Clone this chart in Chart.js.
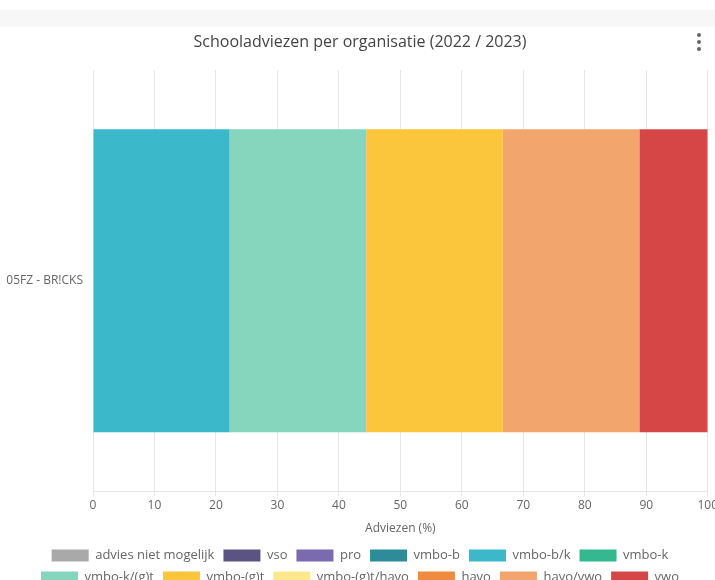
<!DOCTYPE html>
<html>
<head>
<meta charset="utf-8">
<script src="https://cdn.jsdelivr.net/npm/chart.js@4"></script>
<style>
  html, body { margin: 0; padding: 0; background: #fff; overflow: hidden; width: 715px; height: 580px; }
  #band { position: absolute; left: 0; top: 10px; width: 715px; height: 17px; background: #f7f7f7; }
  #wrap { position: absolute; left: 0; top: 27px; width: 720px; height: 567px; }
  #menu { position: absolute; left: 697px; top: 33px; width: 4px; }
  #menu span { display: block; width: 4px; height: 4px; border-radius: 2px; background: #666; margin-bottom: 3px; }
</style>
</head>
<body>
<div id="band"></div>
<div id="wrap"><canvas id="graph_advies"></canvas></div>
<div id="menu"><span></span><span></span><span></span></div>
<script>
/*------------------------------*/
/*     Schooladviezen data      */
/*------------------------------*/
var organisaties = ['05FZ - BR!CKS']
var adviezen = ['advies niet mogelijk', 'vso', 'pro', 'vmbo-b', 'vmbo-b/k', 'vmbo-k',
  'vmbo-k/(g)t', 'vmbo-(g)t', 'vmbo-(g)t/havo', 'havo', 'havo/vwo', 'vwo']
var percentages = [0, 0, 0, 0, 22.22, 0, 22.22, 22.22, 0, 0, 22.22, 11.11]
var kleuren = ['#a9a9a9', '#5b5483', '#7b6ab0', '#2e8b9a', '#3bb8c9', '#33b890',
  '#86d5bd', '#fbc53c', '#fde98c', '#f08a3e', '#f2a66e', '#d64646']
var xTicks = [0, 10, 20, 30, 40, 50, 60, 70, 80, 90, 100]

var ctx_advies = document.getElementById('graph_advies').getContext('2d')

var data_advies = {
    labels: organisaties,
    datasets: adviezen.map(function (naam, i) {
        return {
            label: naam,
            data: [percentages[i]],
            backgroundColor: kleuren[i],
            borderColor: kleuren[i],
            borderWidth: 0
        }
    })
}

var config_advies = {
    type: 'bar',
    data: data_advies,
    options: {
        indexAxis: 'y',
        responsive: true,
        maintainAspectRatio: false,
        animation: false,
        layout: { padding: 0 },
        scales: {
            x: {
                stacked: true,
                min: 0,
                max: 100,
                afterBuildTicks: function (scale) {
                    scale.ticks = xTicks.map(function (v) { return { value: v } })
                },
                grid: { color: '#e6e6e6', tickLength: 5 },
                border: { color: '#e6e6e6' },
                ticks: { color: '#666', padding: 2, font: { family: 'Open Sans', size: 12 } },
                title: {
                    display: true,
                    text: 'Adviezen (%)',
                    color: '#666',
                    padding: { top: 7, bottom: 4 },
                    font: { family: 'Open Sans', size: 12 }
                }
            },
            y: {
                stacked: true,
                grid: { display: false },
                border: { display: false },
                afterFit: function (scale) { scale.width = 93 },
                ticks: { color: '#666', padding: 2, font: { family: 'Open Sans', size: 12 } }
            }
        },
        plugins: {
            title: {
                display: true,
                text: 'Schooladviezen per organisatie (2022 / 2023)',
                color: '#444',
                padding: { top: 6, bottom: 18 },
                font: { family: 'Open Sans', size: 16, weight: 'normal' }
            },
            legend: {
                position: 'bottom',
                labels: {
                    color: '#666',
                    boxWidth: 37,
                    boxHeight: 12,
                    padding: 9,
                    font: { family: 'Open Sans', size: 13 }
                }
            },
            tooltip: { enabled: false }
        }
    }
}
var graph_advies = new Chart(ctx_advies, config_advies)
</script>
</body>
</html>
